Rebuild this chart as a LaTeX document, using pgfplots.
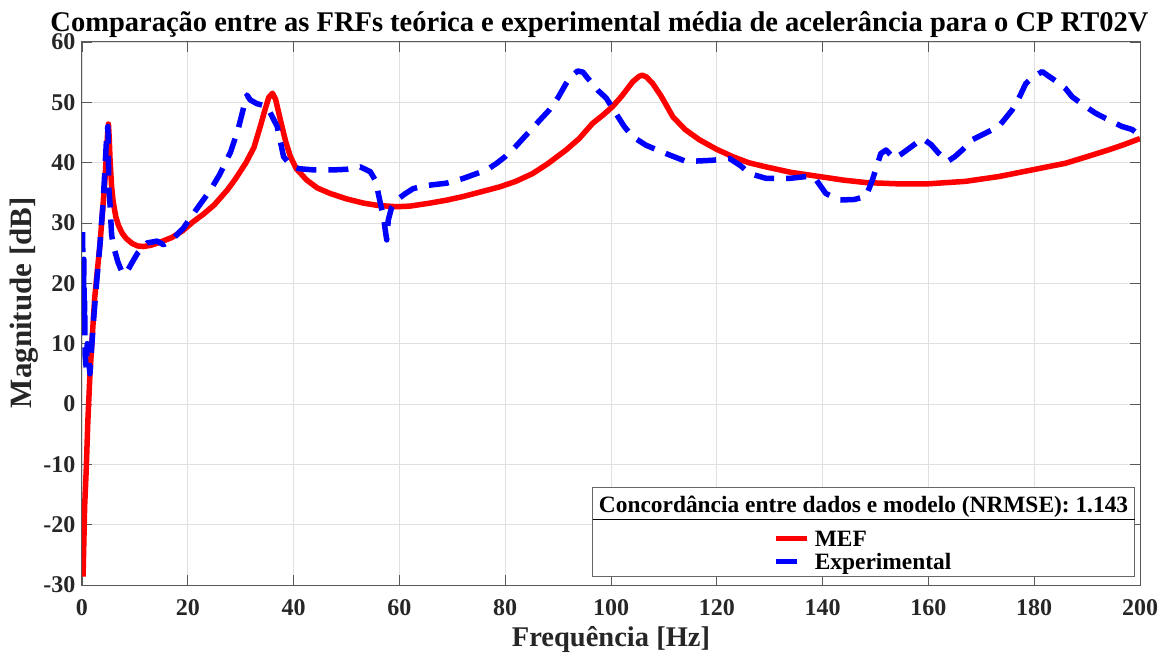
\documentclass[border=0pt]{standalone}
\usepackage{pgfplots}
\pgfplotsset{compat=1.18}
\usepackage{fontspec}
\setmainfont{Liberation Serif}
\definecolor{mred}{RGB}{255,0,0}
\definecolor{mblue}{RGB}{0,0,255}
\begin{document}
\begin{tikzpicture}
\begin{axis}[
  scale only axis, width=1058pt, height=543pt,
  xmin=0, xmax=200, ymin=-30, ymax=60,
  xtick={0,20,...,200}, ytick={-30,-20,...,60},
  grid=major, major grid style={black!12, line width=0.7pt},
  tick align=inside, major tick length=10pt,
  axis line style={black!65, line width=1pt},
  tick style={black!65, line width=0.9pt},
  /pgf/number format/assume math mode=true,
  ticklabel style={font=\bfseries\fontsize{24}{27}\selectfont, text=black!85},
  xticklabel style={yshift=-11pt},
  yticklabel style={xshift=-3pt},
  xlabel={Frequência [Hz]}, ylabel={Magnitude [dB]},
  xlabel style={font=\bfseries\fontsize{28.5}{32}\selectfont, text=black!85, yshift=-4pt},
  ylabel style={font=\bfseries\fontsize{31}{34}\selectfont, text=black!85, yshift=-2pt, at={(ticklabel cs:0.52)}},
  title={Comparação entre as FRFs teórica e experimental média de acelerância para o CP RT02V},
  title style={font=\bfseries\fontsize{28.5}{32}\selectfont, at={(0.489,1)}, anchor=south, yshift=-5pt},
]
\addplot[mred, line width=5.5pt, line join=round] coordinates {
(0.2,-28.6)(0.5,-17)(0.8,-10.9)(1.1,-3)(1.5,4.9)(2.0,12)(2.4,17.6)(3.0,23)(3.4,26.5)(3.8,31)
(4.3,36.6)(4.6,41)(4.85,45)(5.0,46.4)(5.15,44)(5.3,40.5)(5.6,36)(5.9,33.5)(6.4,31)(6.9,29.6)
(7.6,28.3)(8.4,27.4)(9.5,26.6)(10.5,26.2)(11.6,26.1)(13,26.3)(15,26.9)(17,27.6)(19,28.7)(21,30.2)
(23,31.5)(25,33)(27.5,35.5)(29,37.3)(31,40)(32.5,42.5)(33.7,46)(34.5,48.5)(35.3,50.8)(36,51.5)
(36.6,50.5)(37.5,47.1)(38.5,43.5)(39.4,41)(40.5,39)(42.5,37.1)(44.5,35.8)(46.9,34.9)(50,34)(53.2,33.3)
(56,32.9)(59.5,32.7)(62,32.8)(65.8,33.3)(69,33.8)(72.1,34.4)(76,35.3)(79,36)(82,36.9)(85.2,38.2)
(88,39.8)(91.5,42.1)(94,44)(96.5,46.5)(98.5,47.9)(100.3,49.3)(102,51)(104.1,53.4)(105.3,54.3)(105.9,54.5)
(106.7,54.2)(107.9,53.1)(109.5,51)(111.7,47.6)(114,45.5)(116.7,43.8)(120,42.2)(123,41)(126,40)(129.3,39.3)
(134,38.4)(139.4,37.7)(144,37.1)(148.2,36.7)(154,36.5)(160,36.5)(167,36.9)(173.3,37.7)(179.6,38.8)(185.9,39.9)
(190,41)(194,42.1)(197,43)(200,44)
};
\addplot[mblue, line width=5.5pt, line join=round, dash pattern=on 20pt off 12pt] coordinates {
(0.1,28.5)(0.2,22)(0.3,18)(0.35,24)(0.45,14)(0.5,17)(0.6,8)(0.8,6)(1.0,10)(1.2,8)
(1.5,5)(1.8,9)(2.1,13)(2.7,19.5)(3.4,26.5)(4.0,33.5)(4.4,40)(4.7,45)(4.9,46)(5.0,40)
(5.1,35.5)(5.3,33)(5.6,28)(6.0,26)(6.8,23.5)(7.5,22)(8.2,21.5)(8.8,22.4)(9.5,23.5)(10.5,25)
(12.3,26.7)(14.2,27)(15.4,26.4)(17,27.2)(19.2,29.2)(21.1,31.6)(24.3,35.5)(26,38)(28.1,41.8)(29.5,45.5)
(30.6,49.3)(31.2,51.2)(31.8,50.4)(33,49.8)(35,49.3)(36.9,46)(38.1,41)(39.4,39.6)(41,39)(43.8,38.8)
(47.5,38.8)(50,38.9)(52.6,39.3)(54.5,38.5)(55.5,37)(56.4,33.3)(57,31)(57.3,29)(57.6,27.2)(57.9,30.5)
(58.5,32.5)(59.5,33.8)(61,34.8)(62.6,35.7)(65,36.2)(68.9,36.6)(72.1,37.4)(76.5,38.8)(78.4,39.9)(80,41)
(82,42.7)(84.5,45.1)(86.5,47)(88.3,48.7)(90,50.8)(91.5,53.1)(92.5,54.3)(93.7,55.2)(94.7,55)(95.6,54)
(97.5,52)(99.1,50.7)(100.9,48.2)(102.5,46)(104.1,44.3)(106.6,42.9)(109,42)(111,41.3)(114.2,40.2)(117,40.3)
(119.2,40.4)(122.4,40.7)(124.5,39.5)(126.2,38.2)(129.3,37.4)(133.8,37.4)(136.9,37.7)(138.5,37.5)(140.6,34.9)(143.1,33.8)
(146,33.9)(148.2,34.4)(149.4,37.1)(151,41.5)(152,42.1)(153.5,40.7)(155,41.5)(156.4,42.4)(158.9,44)(160.5,43)
(162,41.5)(163.6,40.2)(165,41)(166.4,42.1)(168.3,43.8)(170.8,44.9)(173.3,46)(175.8,48.7)(177,50.5)(178.4,53.1)
(179.5,54)(181.5,55.1)(182.8,54.3)(184.5,53.3)(185.9,52.3)(187.2,50.9)(189.7,49.3)(191.6,48.2)(194.7,46.8)(196.6,46)
(198.5,45.5)(200,44.5)
};
\node[draw=black!60, line width=0.9pt, fill=white, anchor=north east, inner sep=0pt]
  at (rel axis cs:0.9953,0.1805) {%
  \vbox{\hsize=542pt \offinterlineskip
    \hbox to \hsize{\hss\bfseries\fontsize{23.4}{26}\selectfont\rule[-7pt]{0pt}{32pt}Concordância entre dados e modelo (NRMSE): 1.143\hss}%
    \hrule height 0.9pt \kern0pt
    \hbox to \hsize{\hss\vbox{\offinterlineskip\bfseries\fontsize{23.4}{26}\selectfont
      \hbox{\rule{0pt}{26pt}\textcolor{mred}{\rule[5pt]{31pt}{5pt}}\hspace{8pt}MEF}%
      \hbox{\rule[-7pt]{0pt}{30pt}\textcolor{mblue}{\rule[5pt]{21pt}{5pt}}\hspace{18pt}Experimental}}\hss}%
  }};
\end{axis}
\pgfresetboundingbox
\path ([shift={(-82pt,-74pt)}]current axis.south west) rectangle ([shift={(36pt,42pt)}]current axis.north east);
\end{tikzpicture}
\end{document}
